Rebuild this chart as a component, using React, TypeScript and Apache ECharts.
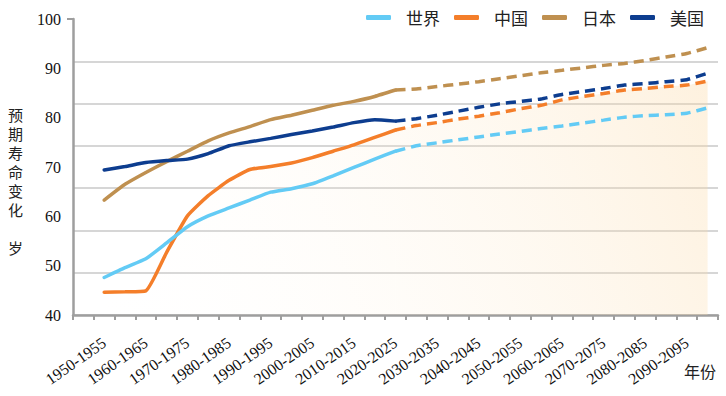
import React, { useEffect, useRef } from 'react';
import * as echarts from 'echarts';

const periods = [
  '1950-1955', '1955-1960', '1960-1965', '1965-1970', '1970-1975', '1975-1980',
  '1980-1985', '1985-1990', '1990-1995', '1995-2000', '2000-2005', '2005-2010',
  '2010-2015', '2015-2020', '2020-2025', '2025-2030', '2030-2035', '2035-2040',
  '2040-2045', '2045-2050', '2050-2055', '2055-2060', '2060-2065', '2065-2070',
  '2070-2075', '2075-2080', '2080-2085', '2085-2090', '2090-2095', '2095-2100',
];

const world = [47.6, 49.6, 51.4, 54.6, 57.9, 60.1, 61.7, 63.3, 64.9, 65.6, 66.6, 68.2, 69.9, 71.6, 73.2,
  74.3, 74.9, 75.5, 76.1, 76.7, 77.2, 77.8, 78.3, 78.9, 79.5, 80.1, 80.4, 80.6, 80.9, 82.0];
const china = [44.6, 44.7, 44.9, 52.7, 60.1, 64.2, 67.3, 69.5, 70.1, 70.8, 71.9, 73.2, 74.5, 76.0, 77.5,
  78.4, 79.0, 79.7, 80.3, 81.0, 81.8, 82.5, 83.6, 84.3, 84.9, 85.6, 85.9, 86.3, 86.6, 87.4];
const japan = [63.3, 66.5, 68.9, 71.1, 73.2, 75.3, 76.9, 78.2, 79.6, 80.5, 81.5, 82.5, 83.3, 84.3, 85.6,
  85.8, 86.3, 86.8, 87.3, 87.9, 88.5, 89.1, 89.6, 90.1, 90.6, 91.0, 91.6, 92.3, 93.0, 94.2];
const usa = [69.4, 70.1, 70.9, 71.3, 71.6, 72.7, 74.3, 75.1, 75.8, 76.6, 77.3, 78.1, 79.0, 79.6, 79.3,
  79.8, 80.5, 81.3, 82.1, 82.8, 83.3, 83.8, 84.7, 85.3, 85.9, 86.6, 86.9, 87.3, 87.7, 89.0];

const seriesNames = ['世界', '中国', '日本', '美国'];
const seriesColors = ['#63CBF5', '#F47E2A', '#BF9050', '#0D3D8F'];
const forecastStart = 14; // index of 2020-2025
const yTicks = { min: 40, max: 100, interval: 10 };
const yNameChars = ['预', '期', '寿', '命', '变', '化', '', '岁'];

const SERIF = '"Liberation Serif", "Times New Roman", serif';
const CJK = '"Noto Sans CJK SC", sans-serif';

export default function App() {
  const ref = useRef<HTMLDivElement>(null);

  useEffect(() => {
    if (!ref.current) return;
    const chart = echarts.init(ref.current, null, { renderer: 'svg' });

    const xData = ['', ...periods];
    const allData = [world, china, japan, usa];

    const areaGradient = new echarts.graphic.LinearGradient(
      73, 315, 716, 60,
      [
        { offset: 0, color: 'rgba(255,255,255,0)' },
        { offset: 1, color: 'rgba(251,214,158,0.5)' },
      ],
      true
    );

    const series: any[] = [];
    const order = [1, 0, 2, 3];
    order.forEach((i) => {
      const d = allData[i];
      const solid = ['-', ...d.map((v, k) => (k <= forecastStart ? v : '-'))];
      const dashed = ['-', ...d.map((v, k) => (k >= forecastStart ? v : '-'))];
      const base = {
        type: 'line',
        name: seriesNames[i],
        symbol: 'none',
        smooth: 0.15,
        color: seriesColors[i],
        xAxisIndex: 0,
        yAxisIndex: 0,
        z: i === 1 ? 2 : 3,
      };
      series.push({
        ...base,
        data: solid,
        lineStyle: { width: 3.5, color: seriesColors[i], cap: 'round' },
        areaStyle: i === 1 ? { color: areaGradient, origin: 'start' } : undefined,
      });
      series.push({
        ...base,
        data: dashed,
        lineStyle: { width: 3.5, color: seriesColors[i], type: [10, 6] },
        areaStyle: i === 1 ? { color: areaGradient, origin: 'start' } : undefined,
      });
    });

    const yNameGraphics = yNameChars
      .map((c, idx) => ({ c, idx }))
      .filter((o) => o.c !== '')
      .map((o) => ({
        type: 'text',
        left: 8,
        top: 107 + o.idx * 19,
        style: { text: o.c, fontSize: 15, fontFamily: CJK, fill: '#222' },
      }));

    chart.setOption({
      animation: false,
      backgroundColor: '#ffffff',
      legend: {
        data: seriesNames.map((n) => ({ name: n, icon: 'roundRect' })),
        right: 17,
        top: 4,
        itemWidth: 25,
        itemHeight: 5,
        itemGap: 14,
        textStyle: { fontSize: 17, fontFamily: CJK, color: '#222', padding: [0, 0, 0, 10] },
      },
      grid: { left: 73, right: 8, top: 19, bottom: 81, containLabel: false },
      xAxis: {
        type: 'category',
        data: xData,
        boundaryGap: true,
        axisLine: { show: true, lineStyle: { color: '#9e9e9e', width: 2.5 } },
        axisTick: { show: true, interval: 0, length: 5, lineStyle: { color: '#9e9e9e', width: 2 } },
        axisLabel: {
          interval: (index: number) => index % 2 === 1,
          rotate: 35,
          margin: 26,
          fontSize: 16,
          fontFamily: SERIF,
          color: '#111',
        },
        splitLine: { show: false },
      },
      yAxis: [
        {
          type: 'value',
          min: yTicks.min,
          max: yTicks.max,
          interval: yTicks.interval,
          axisLine: { show: false },
          axisTick: { show: false },
          splitLine: { show: false },
          axisLabel: { margin: 12, fontSize: 16, fontFamily: SERIF, color: '#111' },
        },
        {
          type: 'value',
          position: 'left',
          min: 0,
          max: 7,
          interval: 1,
          axisLine: { show: true, onZero: false, lineStyle: { color: '#9e9e9e', width: 2.5 } },
          axisTick: { show: false },
          axisLabel: { show: false },
          splitLine: { show: true, showMaxLine: false, lineStyle: { color: '#c9c9c9', width: 1.5 } },
        },
      ],
      graphic: [
        {
          type: 'line',
          shape: { x1: 67, y1: 19, x2: 73, y2: 19 },
          style: { stroke: '#9e9e9e', lineWidth: 2 },
        },
        ...yNameGraphics,
        {
          type: 'text',
          left: 684,
          top: 363,
          style: { text: '年份', fontSize: 16, fontFamily: CJK, fill: '#222' },
        },
      ],
      series,
    });

    return () => chart.dispose();
  }, []);

  return (
    <div
      ref={ref}
      style={{ position: 'absolute', left: 0, top: 0, width: 726, height: 396 }}
    />
  );
}
